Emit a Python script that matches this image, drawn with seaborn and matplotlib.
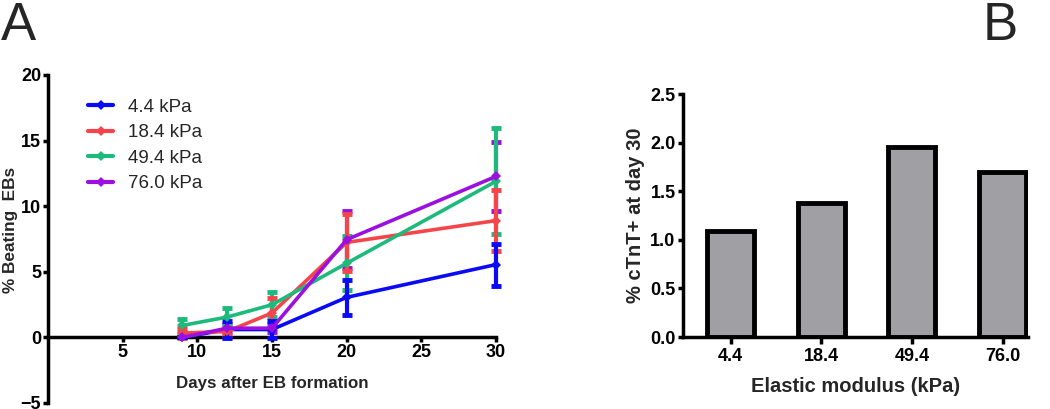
import pandas as pd
import matplotlib
matplotlib.use("Agg")
import matplotlib.pyplot as plt
import seaborn as sns

# panel A data: % beating EBs over time
days = [9, 12, 15, 20, 30]
labels = ["4.4 kPa", "18.4 kPa", "49.4 kPa", "76.0 kPa"]
colors = ["#0a0af5", "#f5444a", "#1dba7c", "#9b10e0"]
beat_44 = [0.0, 0.6, 0.6, 3.05, 5.55]
beat_184 = [0.33, 0.45, 1.86, 7.24, 8.9]
beat_494 = [0.91, 1.55, 2.49, 5.65, 11.9]
beat_760 = [0.0, 0.7, 0.7, 7.45, 12.27]
err_44 = [0.0, 0.62, 0.62, 1.35, 1.6]
err_184 = [0.38, 0.3, 1.14, 2.18, 2.35]
err_494 = [0.5, 0.69, 0.94, 2.05, 4.05]
err_760 = [0.0, 0.3, 0.3, 2.15, 2.62]

# panel B data: % cTnT+ at day 30
moduli = ["4.4", "18.4", "49.4", "76.0"]
ctnt = [1.09, 1.38, 1.96, 1.70]

sns.set_theme(style="ticks")
plt.rcParams["font.family"] = ["Liberation Sans", "DejaVu Sans"]

fig = plt.figure(figsize=(10.5, 4.09), dpi=100)
axA = fig.add_axes([0.0457, 0.0147, 0.4267, 0.802])
axB = fig.add_axes([0.650, 0.176, 0.329, 0.594])

means = [beat_44, beat_184, beat_494, beat_760]
errs = [err_44, err_184, err_494, err_760]
rows = []
for lab, m in zip(labels, means):
    for d, v in zip(days, m):
        rows.append({"day": d, "beating": v, "stiffness": lab})
df = pd.DataFrame(rows)

# draw in reverse so 4.4 kPa sits on top
for i in reversed(range(4)):
    eb = axA.errorbar(days, means[i], yerr=errs[i], fmt="none", ecolor=colors[i],
                      elinewidth=3, capsize=3.5, capthick=3.5, zorder=2 + (3 - i))
    for art in eb.lines[1] + eb.lines[2]:
        art.set_clip_on(False)
sns.lineplot(data=df, x="day", y="beating", hue="stiffness", hue_order=labels,
             palette=colors, marker="D", markersize=5, markeredgewidth=0,
             linewidth=2.6, errorbar=None, ax=axA, zorder=10)
for ln in axA.get_lines():
    ln.set_clip_on(False)
axA.set_xlim(0, 30)
axA.set_ylim(-5, 20)
axA.set_xticks([5, 10, 15, 20, 25, 30])
axA.set_yticks([-5, 0, 5, 10, 15, 20])
axA.spines["bottom"].set_position(("data", 0))
axA.spines["right"].set_visible(False)
axA.spines["top"].set_visible(False)
for s in ["left", "bottom"]:
    axA.spines[s].set_linewidth(2.5)
    axA.spines[s].set_color("black")
axA.tick_params(width=2.5, length=3.5, pad=1.5, colors="black", labelsize=13)
for t in axA.get_xticklabels() + axA.get_yticklabels():
    t.set_fontweight("bold")
axA.set_xlabel("Days after EB formation", fontsize=12.2, fontweight="bold", va="top")
axA.xaxis.set_label_coords(0.5, 0.082)
axA.set_ylabel("% Beating  EBs", fontsize=12.4, fontweight="bold")
axA.yaxis.set_label_coords(-0.068, 0.527)
leg = axA.legend(loc="upper left", bbox_to_anchor=(0.052, 0.98), frameon=False,
                 fontsize=13.5, handlelength=1.35, labelspacing=0.45, handletextpad=0.75)
for h in leg.get_lines():
    h.set_linewidth(3)

sns.barplot(x=moduli, y=ctnt, color="#a09fa4", saturation=1, width=0.52,
            edgecolor="black", linewidth=3.5, ax=axB)
axB.set_xlim(-0.53, 3.28)
axB.set_ylim(0, 2.5)
axB.set_yticks([0.0, 0.5, 1.0, 1.5, 2.0, 2.5])
axB.set_yticklabels(["0.0", "0.5", "1.0", "1.5", "2.0", "2.5"])
axB.spines["right"].set_visible(False)
axB.spines["top"].set_visible(False)
for s in ["left", "bottom"]:
    axB.spines[s].set_linewidth(2.5)
    axB.spines[s].set_color("black")
axB.tick_params(width=2.5, length=3.5, pad=1.5, colors="black", labelsize=13)
axB.tick_params(axis="x", length=5, pad=3)
for t in axB.get_xticklabels() + axB.get_yticklabels():
    t.set_fontweight("bold")
axB.set_xlabel("Elastic modulus (kPa)", fontsize=14.5, fontweight="bold", va="top")
axB.xaxis.set_label_coords(0.5, -0.165)
axB.set_ylabel("% cTnT+ at day 30", fontsize=14.5, fontweight="bold")
axB.yaxis.set_label_coords(-0.11, 0.5)

fig.text(0.001, 0.998, "A", fontsize=38, va="top", ha="left")
fig.text(0.936, 0.998, "B", fontsize=38, va="top", ha="left")

fig.savefig("out.png", dpi=100)
